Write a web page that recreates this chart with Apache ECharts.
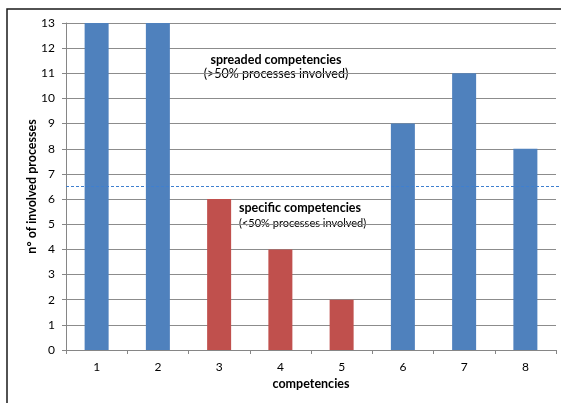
<!DOCTYPE html>
<html>
<head>
<meta charset="utf-8">
<script src="https://cdn.jsdelivr.net/npm/echarts@6/dist/echarts.min.js"></script>
<style>
  html, body { margin: 0; padding: 0; background: #fff; }
  #chart { width: 561px; height: 403px; }
</style>
</head>
<body>
<div id="chart"></div>
<script>
// Competencies and how many processes involve each one
const categories = ['1', '2', '3', '4', '5', '6', '7', '8'];
const processCounts = [13, 13, 6, 4, 2, 9, 11, 8];
// Competency group of each bar: spreaded (>50%) or specific (<50%)
const groups = ['spreaded', 'spreaded', 'specific', 'specific', 'specific', 'spreaded', 'spreaded', 'spreaded'];
// Threshold separating the two groups (half of the 13 processes)
const thresholdLevel = 6.5;
const yTicks = { min: 0, max: 13, interval: 1 };

const groupColors = { spreaded: '#4F81BD', specific: '#C0504D' };
const FONT = 'Lato, "Liberation Sans", sans-serif';

const chart = echarts.init(document.getElementById('chart'), null, { renderer: 'canvas' });

chart.setOption({
  animation: false,
  backgroundColor: '#ffffff',
  grid: { left: 66, top: 23, right: 5, bottom: 53, containLabel: false },
  xAxis: {
    type: 'category',
    data: categories,
    boundaryGap: true,
    name: 'competencies',
    nameLocation: 'middle',
    nameGap: 27,
    nameMoveOverlap: false,
    nameTextStyle: { fontFamily: FONT, fontWeight: 'bold', fontSize: 12.5, color: '#000', verticalAlign: 'top' },
    axisLine: { lineStyle: { color: '#868686', width: 1 } },
    axisTick: { show: true, alignWithLabel: false, length: 4, lineStyle: { color: '#868686' } },
    axisLabel: { fontFamily: FONT, fontSize: 12, color: '#000', margin: 11 },
    splitLine: { show: false }
  },
  yAxis: {
    type: 'value',
    min: yTicks.min,
    max: yTicks.max,
    interval: yTicks.interval,
    name: 'n° of involved processes',
    nameLocation: 'middle',
    nameGap: 34,
    nameRotate: 90,
    nameMoveOverlap: false,
    nameTextStyle: { fontFamily: FONT, fontWeight: 'bold', fontSize: 12.5, color: '#000', verticalAlign: 'middle' },
    axisLine: { show: true, lineStyle: { color: '#868686', width: 1 } },
    axisTick: { show: true, length: 4, lineStyle: { color: '#868686' } },
    axisLabel: { fontFamily: FONT, fontSize: 12, color: '#000', margin: 11 },
    splitLine: { show: true, lineStyle: { color: '#8c8c8c', width: 1 } }
  },
  series: [{
    type: 'bar',
    data: processCounts.map((v, i) => ({
      value: v,
      itemStyle: { color: groupColors[groups[i]] }
    })),
    barWidth: 24,
    markLine: {
      silent: true,
      symbol: 'none',
      label: { show: false },
      lineStyle: { color: '#3f7fcf', type: [3, 2], width: 1 },
      data: [[
        { yAxis: thresholdLevel, x: 66 },
        { yAxis: thresholdLevel, x: '100%' }
      ]]
    }
  }],
  graphic: [
    {
      type: 'rect',
      shape: { x: 7, y: 9, width: 700, height: 600 },
      style: { fill: 'none', stroke: '#1a1a1a', lineWidth: 1.5 },
      silent: true
    },
    {
      type: 'text', x: 276, y: 60,
      style: { text: 'spreaded competencies', font: 'bold 12.5px ' + FONT, fill: '#000', textAlign: 'center', textVerticalAlign: 'middle' }
    },
    {
      type: 'text', x: 276, y: 74,
      style: { text: '(>50% processes involved)', font: '12.5px ' + FONT, fill: '#000', textAlign: 'center', textVerticalAlign: 'middle' }
    },
    {
      type: 'text', x: 239, y: 208,
      style: { text: 'specific competencies', font: 'bold 12.5px ' + FONT, fill: '#000', textAlign: 'left', textVerticalAlign: 'middle' }
    },
    {
      type: 'text', x: 239, y: 223,
      style: { text: '(<50% processes involved)', font: '11px ' + FONT, fill: '#000', textAlign: 'left', textVerticalAlign: 'middle' }
    }
  ]
});
</script>
</body>
</html>
